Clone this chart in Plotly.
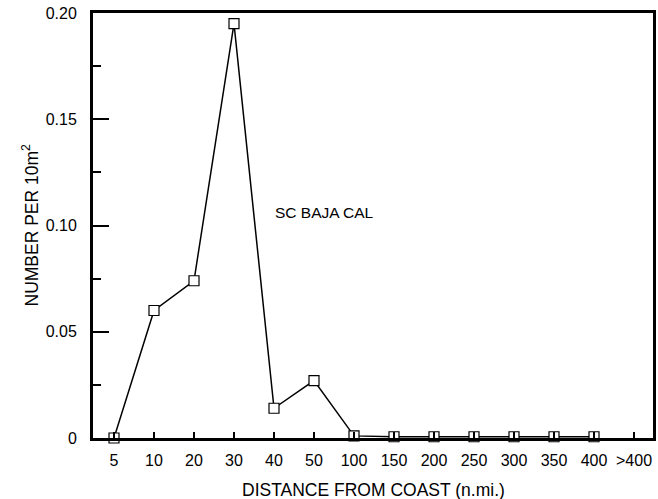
import plotly.graph_objects as go

categories = ["5", "10", "20", "30", "40", "50", "100", "150", "200", "250", "300", "350", "400", ">400"]
values = [0.0, 0.060, 0.074, 0.195, 0.014, 0.027, 0.001, 0.0006, 0.0006, 0.0006, 0.0006, 0.0006, 0.0006]
y_tickvals = [0, 0.05, 0.10, 0.15, 0.20]
y_ticktext = ["0", "0.05", "0.10", "0.15", "0.20"]
label_text = "SC BAJA CAL"
x_title = "DISTANCE FROM COAST (n.mi.)"
y_title = "NUMBER PER 10m<sup>2</sup>"

fam = "Liberation Sans, Arial, Helvetica, sans-serif"
tick_font = dict(family=fam, size=16, color="black")
title_font = dict(family=fam, size=17.5, color="black")

fig = go.Figure()
fig.add_trace(go.Scatter(
    x=categories[:len(values)], y=values, mode="lines+markers",
    line=dict(color="black", width=1.5),
    marker=dict(symbol="square", size=10, color="white", line=dict(color="black", width=1.2)),
    cliponaxis=False, showlegend=False,
))

fig.add_annotation(x=3.97, y=0.106, xref="x", yref="y", text=label_text, showarrow=False,
                   xanchor="left", yanchor="middle", font=dict(family=fam, size=15.5, color="black"))
fig.add_annotation(x=0.5, y=0, xref="paper", yref="paper", text=x_title, showarrow=False,
                   xanchor="center", yanchor="middle", yshift=-52, font=title_font)
fig.add_annotation(x=0, y=0.5, xref="paper", yref="paper", text=y_title, showarrow=False,
                   xanchor="center", yanchor="middle", xshift=-63, textangle=-90, font=title_font)

fig.update_layout(
    width=658, height=499,
    margin=dict(l=93, r=5, t=13, b=61),
    paper_bgcolor="white", plot_bgcolor="white",
    font=tick_font,
    xaxis=dict(
        type="category", categoryorder="array", categoryarray=categories,
        tickvals=categories, ticktext=categories,
        range=[-0.525, 13.475], automargin=False,
        showline=True, linecolor="black", linewidth=3, mirror=True,
        ticks="inside", ticklen=6, tickwidth=1.5, tickcolor="black",
        ticklabelstandoff=6, tickfont=tick_font,
        showgrid=False, zeroline=False,
    ),
    yaxis=dict(
        range=[0, 0.2], tickvals=y_tickvals, ticktext=y_ticktext, automargin=False,
        showline=True, linecolor="black", linewidth=3, mirror=True,
        ticks="inside", ticklen=16, tickwidth=1.5, tickcolor="black",
        ticklabelstandoff=10, tickfont=tick_font,
        minor=dict(ticks="inside", ticklen=8, tickwidth=1.5, tickcolor="black", dtick=0.025, showgrid=False),
        showgrid=False, zeroline=False,
    ),
)

fig.write_html("out.html", config={"displayModeBar": False},
               post_script="document.body.style.margin='0';document.body.style.overflow='hidden';")
